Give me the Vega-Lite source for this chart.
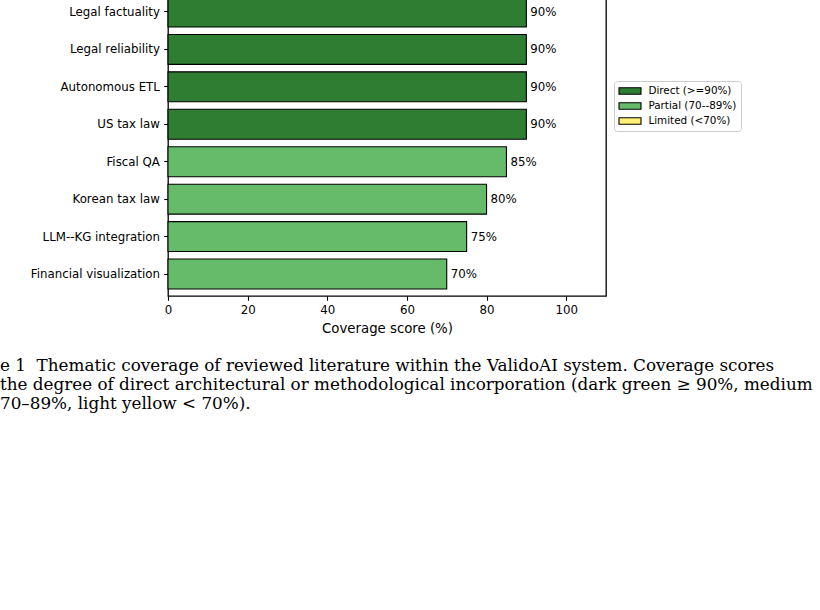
{
  "$schema": "https://vega.github.io/schema/vega-lite/v6.json",
  "autosize": {"type": "none"},
  "padding": {"left": 168, "top": -10, "right": 214, "bottom": 314},
  "width": 438,
  "height": 306,
  "background": "white",
  "config": {
    "font": "DejaVu Sans",
    "view": {"stroke": "black", "strokeWidth": 1.3}
  },
  "title": {
    "text": ["e 1\u00a0\u00a0Thematic coverage of reviewed literature within the ValidoAI system. Coverage scores", "\u00a0the degree of direct architectural or methodological incorporation (dark green ≥ 90%, medium", "70–89%, light yellow < 70%)."],
    "orient": "bottom",
    "anchor": "start",
    "frame": "group",
    "align": "left",
    "baseline": "top",
    "dx": -168,
    "offset": 24,
    "font": "DejaVu Serif",
    "fontSize": 16.8,
    "fontWeight": "normal",
    "lineHeight": 19,
    "color": "black"
  },
  "data": {
    "values": [
      {"topic": "Legal factuality", "score": 90, "label": "90%", "level": "Direct (>=90%)"},
      {"topic": "Legal reliability", "score": 90, "label": "90%", "level": "Direct (>=90%)"},
      {"topic": "Autonomous ETL", "score": 90, "label": "90%", "level": "Direct (>=90%)"},
      {"topic": "US tax law", "score": 90, "label": "90%", "level": "Direct (>=90%)"},
      {"topic": "Fiscal QA", "score": 85, "label": "85%", "level": "Partial (70--89%)"},
      {"topic": "Korean tax law", "score": 80, "label": "80%", "level": "Partial (70--89%)"},
      {"topic": "LLM--KG integration", "score": 75, "label": "75%", "level": "Partial (70--89%)"},
      {"topic": "Financial visualization", "score": 70, "label": "70%", "level": "Partial (70--89%)"}
    ]
  },
  "encoding": {
    "y": {
      "field": "topic",
      "type": "nominal",
      "sort": null,
      "scale": {"paddingInner": 0.2, "paddingOuter": 0.187},
      "axis": {
        "title": null,
        "domain": false,
        "tickColor": "black",
        "tickSize": 4.3,
        "tickWidth": 1.1,
        "labelColor": "black",
        "labelFontSize": 11.8,
        "labelPadding": 4.3
      }
    },
    "x": {
      "field": "score",
      "type": "quantitative",
      "scale": {"domain": [0, 110], "nice": false},
      "axis": {
        "title": "Coverage score (%)",
        "values": [0, 20, 40, 60, 80, 100],
        "grid": false,
        "domain": false,
        "labelFlush": false,
        "tickColor": "black",
        "tickSize": 4.3,
        "tickWidth": 1.1,
        "labelColor": "black",
        "labelFontSize": 11.8,
        "labelPadding": 4,
        "titleColor": "black",
        "titleFontSize": 13.3,
        "titleFontWeight": "normal",
        "titlePadding": 5
      }
    }
  },
  "layer": [
    {
      "mark": {"type": "bar", "stroke": "black", "strokeWidth": 1.1},
      "encoding": {
        "color": {
          "field": "level",
          "type": "nominal",
          "scale": {
            "domain": ["Direct (>=90%)", "Partial (70--89%)", "Limited (<70%)"],
            "range": ["#2e7d32", "#66bb6a", "#fff176"]
          },
          "legend": {
            "title": null,
            "orient": "none",
            "legendX": 446,
            "legendY": 91,
            "padding": 4,
            "fillColor": "white",
            "strokeColor": "#cccccc",
            "cornerRadius": 3,
            "symbolType": "M-2.2,-0.65L2.2,-0.65L2.2,0.65L-2.2,0.65Z",
            "symbolSize": 100,
            "symbolStrokeColor": "black",
            "symbolStrokeWidth": 1.1,
            "symbolOpacity": 1,
            "symbolOffset": 6,
            "labelOffset": 12.4,
            "labelFontSize": 10.4,
            "labelColor": "black",
            "rowPadding": 3
          }
        }
      }
    },
    {
      "mark": {"type": "text", "align": "left", "baseline": "middle", "dx": 4, "fontSize": 11.8, "color": "black"},
      "encoding": {"text": {"field": "label"}}
    }
  ]
}
